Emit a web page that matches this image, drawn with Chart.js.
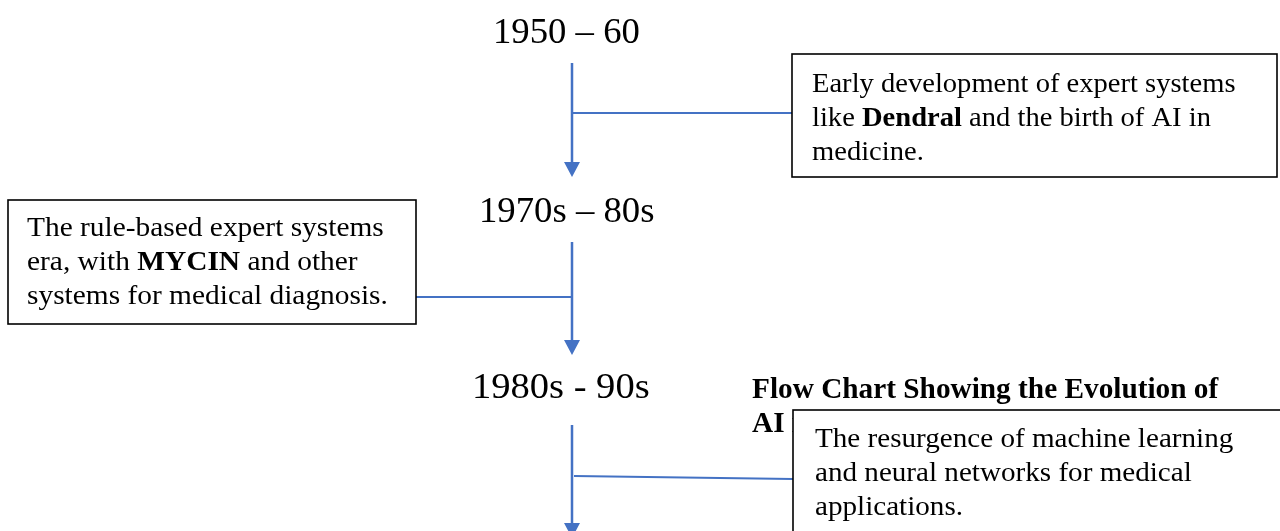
<!DOCTYPE html>
<html>
<head>
<meta charset="utf-8">
<script src="https://cdn.jsdelivr.net/npm/chart.js@4.4.1/dist/chart.umd.min.js"></script>
<style>
  html, body { margin: 0; padding: 0; background: #ffffff; }
  #wrap { width: 1280px; height: 531px; overflow: hidden; }
  canvas { display: block; }
</style>
</head>
<body>
<div id="wrap"><canvas id="c" width="1280" height="531"></canvas></div>
<script>
// ---- content ----
const stages = ['1950 – 60', '1970s – 80s', '1980s - 90s'];
const descriptions = [
  ['Early development of expert systems', 'like **Dendral** and the birth of AI in', 'medicine.'],
  ['The rule-based expert systems', 'era, with **MYCIN** and other', 'systems for medical diagnosis.'],
  ['The resurgence of machine learning', 'and neural networks for medical', 'applications.']
];
const titleLines = ['Flow Chart Showing the Evolution of', 'AI in Medicine'];

// ---- layout (pixel space of the hidden linear scales) ----
const stagePos = [[493, 43], [479, 222], [472, 398]];
const boxPos = [
  { x1: 792, y1: 54, x2: 1277, y2: 177, tx: 812, ty: 92, sx: 1.02 },
  { x1: 8, y1: 200, x2: 416, y2: 324, tx: 27, ty: 236, sx: 1.05 },
  { x1: 793, y1: 410, x2: 1295, y2: 560, tx: 815, ty: 447, sx: 1.04 }
];
const titlePos = [752, 398];
const shafts = [
  [[572, 63], [572, 165]],
  [[572, 242], [572, 343]],
  [[572, 425], [572, 526]]
];
const arrowTips = [[572, 177], [572, 355], [572, 538]];
const connectors = [
  [[572, 113], [792, 113]],
  [[416, 297], [572, 297]],
  [[574, 476], [793, 479]]
];

const BLUE = '#4472c4';
const SERIF = '"Liberation Serif", "Times New Roman", serif';
const LINE_H = 34;

const datasets = [];
shafts.forEach(s => datasets.push({
  data: s.map(p => ({ x: p[0], y: p[1] })),
  borderColor: BLUE, borderWidth: 2.5, pointRadius: 0, showLine: true, fill: false
}));
connectors.forEach(s => datasets.push({
  data: s.map(p => ({ x: p[0], y: p[1] })),
  borderColor: BLUE, borderWidth: 2, pointRadius: 0, showLine: true, fill: false
}));

function drawRich(ctx, line, x, y, size, sx) {
  const parts = line.split('**');
  ctx.save();
  ctx.translate(x, y);
  ctx.scale(sx, 1);
  let cx = 0;
  parts.forEach((p, i) => {
    if (!p) return;
    ctx.font = (i % 2 ? 'bold ' : '') + size + 'px ' + SERIF;
    ctx.fillText(p, cx, 0);
    cx += ctx.measureText(p).width;
  });
  ctx.restore();
}

const flowPlugin = {
  id: 'flow',
  afterDatasetsDraw(chart) {
    const ctx = chart.ctx;
    const X = v => chart.scales.x.getPixelForValue(v);
    const Y = v => chart.scales.y.getPixelForValue(v);
    ctx.save();
    // arrowheads
    ctx.fillStyle = BLUE;
    arrowTips.forEach(t => {
      ctx.beginPath();
      ctx.moveTo(X(t[0]), Y(t[1]));
      ctx.lineTo(X(t[0] - 8), Y(t[1] - 15));
      ctx.lineTo(X(t[0] + 8), Y(t[1] - 15));
      ctx.closePath();
      ctx.fill();
    });
    // stage labels
    ctx.fillStyle = '#000';
    ctx.textBaseline = 'alphabetic';
    ctx.textAlign = 'left';
    stages.forEach((s, i) => {
      drawRich(ctx, s, X(stagePos[i][0]), Y(stagePos[i][1]), 36, i === 2 ? 1.07 : 1.02);
    });
    // title (partly hidden behind third box)
    titleLines.forEach((t, i) => {
      drawRich(ctx, '**' + t + '**', X(titlePos[0]), Y(titlePos[1] + i * LINE_H), 29, 1.01);
    });
    // boxes
    descriptions.forEach((lines, i) => {
      const b = boxPos[i];
      const x1 = X(b.x1), y1 = Y(b.y1), x2 = X(b.x2), y2 = Y(b.y2);
      ctx.fillStyle = '#fff';
      ctx.fillRect(x1, y1, x2 - x1, y2 - y1);
      ctx.strokeStyle = '#000';
      ctx.lineWidth = 1.6;
      ctx.strokeRect(x1, y1, x2 - x1, y2 - y1);
      ctx.fillStyle = '#000';
      lines.forEach((l, j) => drawRich(ctx, l, X(b.tx), Y(b.ty + j * LINE_H), 28, b.sx));
    });
    ctx.restore();
  }
};

new Chart(document.getElementById('c'), {
  type: 'scatter',
  data: { datasets },
  options: {
    responsive: false,
    animation: false,
    events: [],
    layout: { padding: 0 },
    plugins: { legend: { display: false }, tooltip: { enabled: false }, title: { display: false } },
    scales: {
      x: { type: 'linear', min: 0, max: 1280, display: false },
      y: { type: 'linear', min: 0, max: 531, reverse: true, display: false }
    },
    elements: { line: { tension: 0, borderCapStyle: 'butt' } },
    clip: false
  },
  plugins: [flowPlugin]
});
</script>
</body>
</html>
